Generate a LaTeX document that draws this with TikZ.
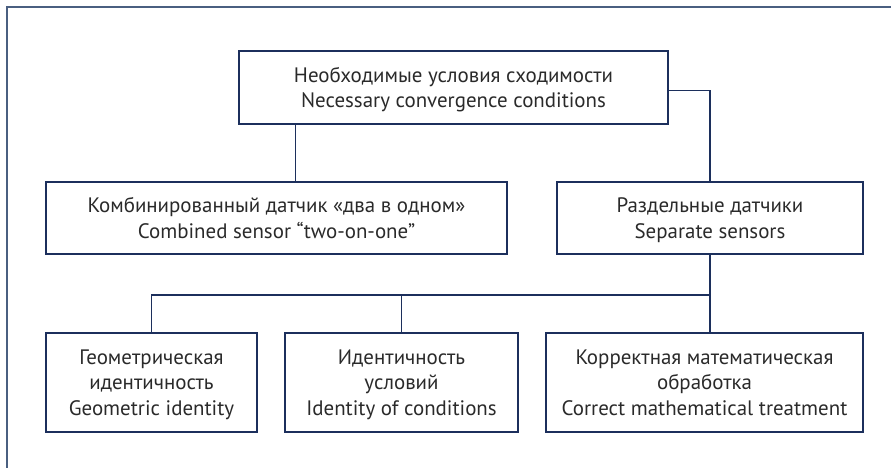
\documentclass[tikz,border=0pt]{standalone}
\usepackage{fontspec}
\setmainfont{PT Sans}
\usetikzlibrary{calc}

\definecolor{cadre}{HTML}{4A5F80}
\definecolor{trait}{HTML}{1C2F5C}
\definecolor{texte}{HTML}{2A2A2A}

\tikzset{
	bloc/.style={rectangle,draw=trait,line width=1.3bp,align=center,text=texte,
		inner sep=0pt,text depth=0pt,font=\fontsize{21}{25.5}\selectfont},
	lien/.style={draw=trait,line width=1.3bp}
}

\begin{document}
\begin{tikzpicture}[x=1bp,y=-1bp]
		\useasboundingbox (0,0) rectangle (891,468);
		\draw[cadre,line width=1.5bp] (7,468) -- (7,7) -- (891,7);

		\node[bloc,minimum width=429bp,minimum height=73bp] (conditions)
			at (453.5,87.5) {Необходимые условия сходимости\\Necessary convergence conditions};

		\node[bloc,minimum width=461bp,minimum height=72bp] (combine)
			at (276.5,218) {Комбинированный датчик «два в одном»\\Combined sensor “two-on-one”};
		\node[bloc,minimum width=306bp,minimum height=72bp] (separes)
			at (710,218) {Раздельные датчики\\Separate sensors};

		\node[bloc,minimum width=211bp,minimum height=99bp] (geometrie)
			at (151.5,382.5) {Геометрическая\\идентичность\\Geometric identity};
		\node[bloc,minimum width=233bp,minimum height=99bp] (identite)
			at (401.5,382.5) {Идентичность\\условий\\Identity of conditions};
		\node[bloc,minimum width=317bp,minimum height=99bp] (traitement)
			at (704.5,382.5) {Корректная математическая\\обработка\\Correct mathematical treatment};

		\coordinate (barre) at (710,295);

		\path[lien] ([xshift=57bp]conditions.south west) -- ([xshift=57bp]conditions.south west |- combine.north);
		\path[lien] ([yshift=-3bp]conditions.east) -| (separes.north);
		\path[lien] (separes.south) -- (separes.south |- traitement.north);
		\path[lien] (barre) -| (geometrie.north);
		\path[lien] (barre -| identite.north) -- (identite.north);
	\end{tikzpicture}
\end{document}
